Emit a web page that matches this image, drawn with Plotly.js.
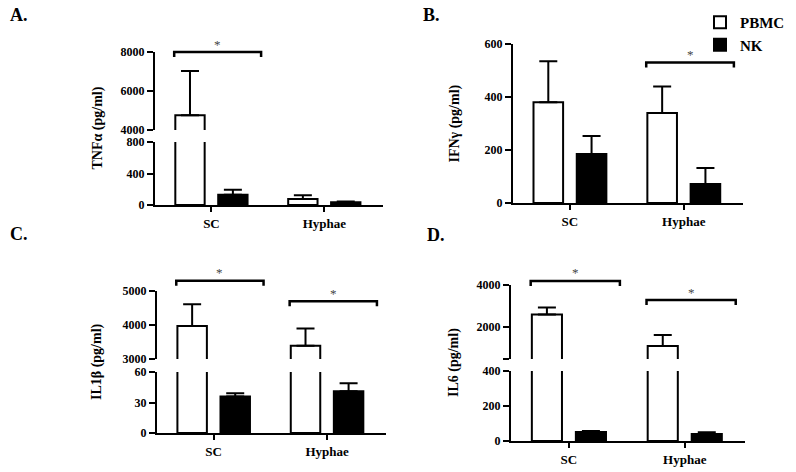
<!DOCTYPE html>
<html>
<head>
<meta charset="utf-8">
<script src="https://cdn.plot.ly/plotly-3.0.1.min.js"></script>
<style>
  html, body { margin: 0; padding: 0; background: #fff; }
  #chart { width: 796px; height: 472px; }
</style>
</head>
<body>
<div id="chart"></div>
<script>
// groups and series
var groups = ['SC', 'Hyphae'];
var series = ['PBMC', 'NK'];

// mean and SEM (pg/ml)
var tnfPbmc = [4750, 75];
var tnfPbmcErr = [2280, 50];
var tnfNk = [130, 35];
var tnfNkErr = [65, 10];

var ifnPbmc = [380, 340];
var ifnPbmcErr = [155, 100];
var ifnNk = [185, 72];
var ifnNkErr = [68, 60];

var il1Pbmc = [3970, 3390];
var il1PbmcErr = [640, 510];
var il1Nk = [36, 41];
var il1NkErr = [3, 8];

var il6Pbmc = [2600, 1110];
var il6PbmcErr = [330, 520];
var il6Nk = [51, 40];
var il6NkErr = [6, 10];

// significance brackets
var sigPanel = ['A', 'B', 'C', 'C', 'D', 'D'];
var sigGroup = [0, 1, 0, 1, 0, 1];
var sigLevel = [8000, 530, 5300, 4700, 4190, 3290];

var W = 796, H = 472;
function hdom(a, b) { return [a / W, b / W]; }
function vdom(bottom, top) { return [1 - bottom / H, 1 - top / H]; }

var FAM = 'Liberation Serif, Times New Roman, serif';
var tickFont = {family: FAM, size: 12, color: '#000', weight: 'bold'};

var panels = [
  {name: 'A', xa: 'x', xdom: hdom(155, 383), title: 'TNFα (pg/ml)', tx: 97, lx: 8, ly: 15,
   data: [tnfPbmc, tnfPbmcErr, tnfNk, tnfNkErr],
   segs: [{ya: 'y', dom: vdom(205, 142), range: [0, 800], ticks: [0, 400, 800]},
          {ya: 'y2', dom: vdom(130, 52), range: [4000, 8000], ticks: [4000, 6000, 8000]}]},
  {name: 'B', xa: 'x2', xdom: hdom(513, 743), title: 'IFNγ (pg/ml)', tx: 454, lx: 421, ly: 15,
   data: [ifnPbmc, ifnPbmcErr, ifnNk, ifnNkErr],
   segs: [{ya: 'y3', dom: vdom(203, 44), range: [0, 600], ticks: [0, 200, 400, 600]}]},
  {name: 'C', xa: 'x3', xdom: hdom(157, 386), title: 'IL1β (pg/ml)', tx: 97, lx: 8, ly: 234,
   data: [il1Pbmc, il1PbmcErr, il1Nk, il1NkErr],
   segs: [{ya: 'y4', dom: vdom(433, 372), range: [0, 60], ticks: [0, 30, 60]},
          {ya: 'y5', dom: vdom(359, 291), range: [3000, 5000], ticks: [3000, 4000, 5000]}]},
  {name: 'D', xa: 'x4', xdom: hdom(511, 745), title: 'IL6 (pg/ml)', tx: 454, lx: 425, ly: 235,
   data: [il6Pbmc, il6PbmcErr, il6Nk, il6NkErr],
   segs: [{ya: 'y6', dom: vdom(441, 371), range: [0, 400], ticks: [0, 200, 400]},
          {ya: 'y7', dom: vdom(359, 285), range: [500, 4000], ticks: [500, 2000, 4000], text: ['', '2000', '4000']}]}
];

function axKey(id) { return id[0] + 'axis' + id.slice(1); }

var xPos = groups.map(function(g, i) { return i; });
var traces = [];
var layout = {
  width: W, height: H,
  margin: {l: 0, r: 0, t: 0, b: 0},
  paper_bgcolor: '#fff', plot_bgcolor: 'rgba(0,0,0,0)',
  barmode: 'overlay',
  showlegend: true,
  legend: {x: 700 / W, y: 1 - 6 / H, xanchor: 'left', yanchor: 'top',
           font: {family: FAM, size: 15, color: '#000', weight: 'bold'},
           bgcolor: 'rgba(0,0,0,0)', tracegroupgap: 0},
  annotations: [],
  shapes: []
};

panels.forEach(function(p, pi) {
  layout[axKey(p.xa)] = {
    domain: p.xdom, range: [-0.5, 1.52], anchor: p.segs[0].ya,
    showline: true, linecolor: '#000', linewidth: 2,
    ticks: 'outside', ticklen: 5, tickwidth: 2, tickcolor: '#000',
    tickmode: 'array', tickvals: xPos, ticktext: groups,
    tickfont: {family: FAM, size: 13, color: '#000', weight: 'bold'},
    showgrid: false, zeroline: false, fixedrange: true
  };
  p.segs.forEach(function(s, si) {
    layout[axKey(s.ya)] = {
      domain: s.dom, range: s.range, anchor: p.xa,
      showline: true, linecolor: '#000', linewidth: 2,
      ticks: 'outside', ticklen: 6, tickwidth: 2, tickcolor: '#000',
      tickmode: 'array', tickvals: s.ticks, ticktext: s.text || s.ticks.map(String),
      tickfont: tickFont, showgrid: false, zeroline: false, fixedrange: true
    };
    series.forEach(function(name, k) {
      traces.push({
        type: 'bar', x: xPos, y: p.data[k * 2],
        xaxis: p.xa, yaxis: s.ya,
        name: name, legendgroup: name, showlegend: pi === 0 && si === 0,
        offset: k === 0 ? -0.32 : 0.06, width: 0.26,
        marker: {color: k === 0 ? '#fff' : '#000', line: {color: '#000', width: 2}},
        error_y: {type: 'data', symmetric: false, array: p.data[k * 2 + 1],
                  arrayminus: p.data[k * 2].map(function() { return 0; }),
                  color: '#000', thickness: 2, width: 9},
        hoverinfo: 'skip'
      });
    });
  });

  // panel letter and y title
  layout.annotations.push({
    text: p.name + '.', xref: 'paper', yref: 'paper', x: p.lx / W, y: 1 - p.ly / H,
    xanchor: 'left', yanchor: 'middle', showarrow: false,
    font: {family: FAM, size: 18, color: '#000', weight: 'bold'}
  });
  var top = p.segs[p.segs.length - 1].dom[1], bot = p.segs[0].dom[0];
  layout.annotations.push({
    text: p.title, xref: 'paper', yref: 'paper', x: p.tx / W, y: (top + bot) / 2,
    textangle: -90, xanchor: 'center', yanchor: 'middle', showarrow: false,
    font: {family: FAM, size: 14, color: '#000', weight: 'bold'}
  });
});

// place a value of the upper segment in paper coordinates
function toPaper(panel, v) {
  var s = panel.segs[panel.segs.length - 1];
  return s.dom[0] + (v - s.range[0]) / (s.range[1] - s.range[0]) * (s.dom[1] - s.dom[0]);
}

sigPanel.forEach(function(name, i) {
  var p = panels.filter(function(q) { return q.name === name; })[0];
  var g = xPos[sigGroup[i]];
  var yv = toPaper(p, sigLevel[i]);
  var tip = 5 / H;
  layout.shapes.push({
    type: 'path', xref: p.xa, yref: 'paper',
    path: 'M' + (g - 0.33) + ',' + (yv - tip) + ' L' + (g - 0.33) + ',' + yv +
          ' L' + (g + 0.44) + ',' + yv + ' L' + (g + 0.44) + ',' + (yv - tip),
    line: {color: '#000', width: 2.5}
  });
  layout.annotations.push({
    text: '*', xref: p.xa, yref: 'paper', x: g + 0.055, y: yv,
    xanchor: 'center', yanchor: 'middle', yshift: 8,
    showarrow: false, font: {family: FAM, size: 13, color: '#444'}
  });
});

Plotly.newPlot('chart', traces, layout, {staticPlot: true});
</script>
</body>
</html>
